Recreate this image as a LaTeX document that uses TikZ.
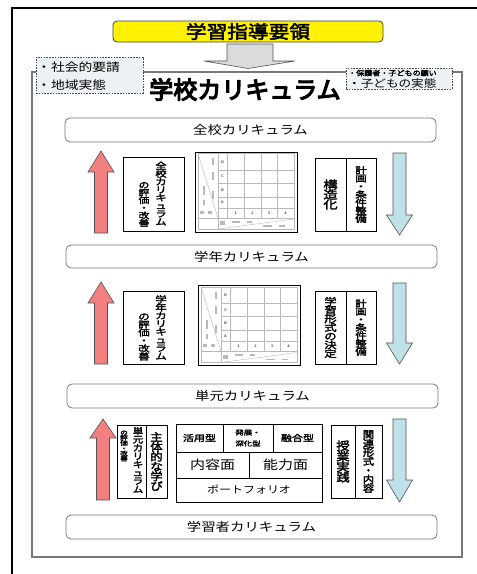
\documentclass[tikz,border=0pt]{standalone}
\usepackage{fontspec}
\newfontfamily\jp[FakeStretch=1.2]{Noto Sans CJK JP}
\newfontfamily\jpb[FakeStretch=1.15,FakeBold=2.5]{Noto Sans CJK JP}
\newfontfamily\jpv[FakeStretch=1.3,FakeBold=2.5]{Noto Sans CJK JP}
\newfontfamily\jph[FakeBold=5]{Noto Sans CJK JP}
\newcommand\fsz[1]{\fontsize{#1}{#1}\selectfont}
\newcommand\vfs[1]{\fontsize{\fpeval{#1*1.1}}{#1}\selectfont}
\makeatletter
\newcommand\vstk[1]{\vbox{\lineskiplimit=-100pt\lineskip=0pt\vst@loop#1\@nil}}
\def\vst@loop#1{\ifx#1\@nil\else\hbox to 0pt{\hss#1\hss}\expandafter\vst@loop\fi}
\makeatother
\definecolor{redarr}{RGB}{242,128,128}
\definecolor{bluearr}{RGB}{190,226,232}
\definecolor{dashfill}{RGB}{236,241,243}
\definecolor{framegray}{RGB}{120,120,120}
\newcommand\redarrow[4]{%
  \draw[arrowline, fill=redarr] (#1-6.5,#4) -- (#1+6.5,#4) -- (#1+6.5,#3) -- (#1+13,#3) -- (#1,#2) -- (#1-13,#3) -- (#1-6.5,#3) -- cycle;}
\newcommand\bluearrow[4]{%
  \draw[arrowline, fill=bluearr] (#1-6.5,#2) -- (#1+6.5,#2) -- (#1+6.5,#3) -- (#1+13,#3) -- (#1,#4) -- (#1-13,#3) -- (#1-6.5,#3) -- cycle;}
\newcommand\chartpic[3]{%
  \begin{scope}[shift={(#1,#2)}]
    \draw[line width=0.8pt, fill=white] (0,0) rectangle (102,80);
    \draw[gridline] (3,1.5) rectangle (99,77);
    \draw[gridline] (23,1.5) -- (23,77);
    \foreach \xx in {32,49,66,82} \draw[gridline] (\xx,1.5) -- (\xx,66);
    \foreach \yy in {18,31,45,56} \draw[gridline] (23,\yy) -- (99,\yy);
    \draw[gridline] (3,66) -- (99,66);
    \draw[gridline] (3,1.5) -- (23,66);
    \draw[gridline] (23,77) -- (99,67);
    \foreach \ll/\yy in {D/10,C/24.5,B/38,A/50.5}
      \node[tiny] (#3let\ll) at (27.5,\yy) {\ll};
    \foreach \nn/\xx in {1/40.5,2/57.5,3/74,4/90.5}
      \node[tiny] (#3num\nn) at (\xx,61) {\nn};
    \foreach \ax/\ay/\bx/\by in {16.5/6/18.5/13, 16.5/20/18.5/28, 7.5/34/9.5/43, 16.5/39/18.5/47, 7.5/48/9.5/53,
        5/58.5/9/61.5, 13/58.5/17/61.5, 25/69/30/73, 37/68.5/45/70.5, 52/68.5/57/70.5, 68/73/77/74.8, 84/73/90/74.8}
      \fill[blob] (\ax,\ay) rectangle (\bx,\by);
  \end{scope}}
\begin{document}
\begin{tikzpicture}[x=1pt,y=-1pt,
  arrowline/.style={draw=gray!65!black, line width=0.6pt},
  gridline/.style={draw=gray!55, line width=0.4pt},
  blob/.style={fill=gray!55},
  tiny/.style={font=\jp\fsz{3.5}, inner sep=0pt},
  lvl/.style={draw=framegray, line width=0.8pt, rounded corners=5pt, fill=white,
    minimum width=371pt, minimum height=24pt, inner sep=0pt, font=\jp\fsz{12}},
  tbox/.style={draw=black, line width=0.7pt, fill=white, inner sep=0pt},
  dbox/.style={draw=gray!60!black, dash pattern=on 1.6pt off 1.2pt, line width=0.6pt,
    fill=dashfill, inner sep=0pt},
  txt/.style={inner sep=0pt}]
\useasboundingbox (0,0) rectangle (477,574);
\fill[white] (0,0) rectangle (477,574);
% outer frame
\draw[line width=1.2pt] (12,580) -- (12,8) -- (480,8);
% inner frame
\draw[draw=framegray, line width=1.3pt] (32,72) rectangle (462,557);
% guideline box
\node[draw=gray!50!black, line width=0.8pt, fill=yellow, rounded corners=4pt,
  minimum width=270pt, minimum height=21pt, inner sep=0pt, font=\jpb\fsz{18}]
  (guide) at (248,31.5) {学習指導要領};
% gray block arrow
\draw[arrowline, fill=gray!28] (227,44) -- (273,44) -- (273,61) -- (295,61) -- (248,68.5)
  -- (204,61) -- (227,61) -- cycle;
% title
\node[txt, font=\jph\fsz{24}] (school) at (245,89.5) {学校カリキュラム};
% dashed boxes
\node[dbox, minimum width=107pt, minimum height=36pt] (social) at (89.5,75) {};
\node[txt, anchor=west, font=\jp\fsz{11.5}] (social1) at (37,67) {・社会的要請};
\node[txt, anchor=west, font=\jp\fsz{11.5}] (social2) at (37,85) {・地域実態};
\node[dbox, minimum width=106pt, minimum height=21pt] (parent) at (399,78.5) {};
\node[txt, anchor=west, font=\jpb\fsz{7}] (parent1) at (348,73) {・保護者・子どもの願い};
\node[txt, anchor=west, font=\jp\fsz{10.5}] (parent2) at (348,83) {・子どもの実態};
% level boxes
\node[lvl] (zenko) at (250.5,130) {全校カリキュラム};
\node[lvl, minimum height=23pt] (gakunen) at (251.5,256.5) {学年カリキュラム};
\node[lvl] (tangen) at (252.5,396) {単元カリキュラム};
\node[lvl] (learner) at (251.5,527) {学習者カリキュラム};
% row 1
\redarrow{101}{151}{172}{233}
\node[tbox, minimum width=61pt, minimum height=74pt] (eval1) at (153.5,194) {};
\node[txt, font=\jpv\vfs{8}] (eval1a) at (161,193.5) {\vstk{全校カリキュラム}};
\node[txt, font=\jpv\vfs{7.6}] (eval1b) at (144,204.5) {\vstk{の評価・改善}};
\chartpic{195}{152}{ca}
\node[tbox, minimum width=31pt, minimum height=73pt, font=\jpv\vfs{10}] (struct1) at (330.5,194.5) {\vstk{構造化}};
\node[tbox, minimum width=30pt, minimum height=73pt, font=\jpv\vfs{8.1}] (plan1) at (361,194.5) {\vstk{計画・条件整備}};
\bluearrow{399.5}{153}{215}{235}
% row 2
\redarrow{101}{282}{303}{364}
\node[tbox, minimum width=61pt, minimum height=73pt] (eval2) at (153.5,327.5) {};
\node[txt, font=\jpv\vfs{8.1}] (eval2a) at (161,327.5) {\vstk{学年カリキュラム}};
\node[txt, font=\jpv\vfs{8}] (eval2b) at (144,337) {\vstk{の評価・改善}};
\chartpic{198}{285.5}{cb}
\node[tbox, minimum width=31pt, minimum height=73pt, font=\jpv\vfs{8.7}] (form2) at (330.5,327.5) {\vstk{学習形式の決定}};
\node[tbox, minimum width=30pt, minimum height=73pt, font=\jpv\vfs{8}] (plan2) at (361,327.5) {\vstk{計画・条件整備}};
\bluearrow{399.5}{283}{343}{364}
% row 3
\redarrow{103}{419}{438}{500}
\node[tbox, minimum width=29pt, minimum height=73pt] (eval3) at (131.5,461.5) {};
\node[txt, font=\jpb\vfs{8.3}] (eval3a) at (138,460) {\vstk{単元カリキュラム}};
\node[txt, font=\jpv\fontsize{6}{5.2}\selectfont] (eval3b) at (124,446) {\vstk{の評価・改善}};
\node[tbox, minimum width=21pt, minimum height=73pt, font=\jpb\vfs{9.8}] (active) at (156.5,461.5) {\vstk{主体的な学び}};
\node[tbox, minimum width=47pt, minimum height=28pt, font=\jpv\fsz{8.5}] (katsuyo) at (199.5,438) {活用型};
\node[tbox, minimum width=50pt, minimum height=28pt, font=\jpv\fontsize{6.5}{11}\selectfont, align=center] (hatten) at (248,438) {発展・\\深化型};
\node[tbox, minimum width=49pt, minimum height=28pt, font=\jpv\fsz{8.5}] (yugo) at (297.5,438) {融合型};
\node[tbox, minimum width=73pt, minimum height=26pt, font=\jp\fsz{12.5}] (naiyo) at (212.5,465) {内容面};
\node[tbox, minimum width=73pt, minimum height=26pt, font=\jp\fsz{12.5}] (noryoku) at (285.5,465) {能力面};
\node[tbox, minimum width=146pt, minimum height=24pt, font=\jp\fsz{10}] (portfolio) at (249,490) {ポートフォリオ};
\node[tbox, minimum width=24pt, minimum height=73pt, font=\jpb\vfs{10.5}] (jugyo) at (343,461.5) {\vstk{授業実践}};
\node[tbox, minimum width=27pt, minimum height=73pt, font=\jpb\vfs{9}] (kanren) at (368.5,461.5) {\vstk{関連形式・内容}};
\bluearrow{399.5}{419}{480}{502}
\end{tikzpicture}
\end{document}
